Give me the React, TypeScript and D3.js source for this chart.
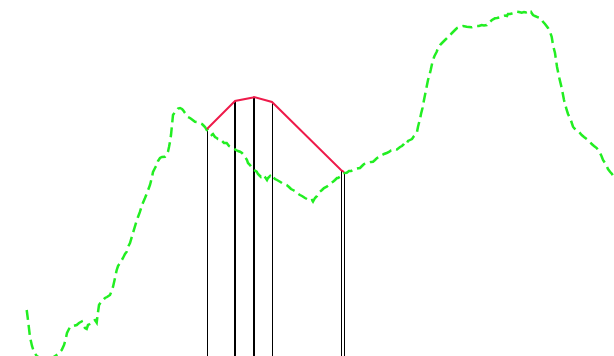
import React from "react";
import * as d3 from "d3";

const W = 614;
const H = 356;

// green series: time index and level
const seriesT = [26.7,28,30,32,34,36.7,40,46,53,58,61.7,64,65.5,67,70,73,76.7,79,81.7,83,85,86.7,88,90,91.7,93,95,96.7,97.5,99,101,103,105,107,110,112,113,115,116.7,118,120,123,125,126.7,128,130,133,136,138,140,142,145,147,150,152,153,155,156.7,158,160,162,165,167,168,169,170,171,171.7,172.5,173,175,176.7,178,180,182,183,185,186.7,188,190,192,195,197,200,202,203,205,206.7,208,210,211.7,213,215,216.7,218,220,222,224,226.7,229,231,233,236,238,240,242,245,247,248,250,252,254,256.7,258,260,261,263,265,267,268,270,271,273,275,277,280,282,284,286.7,289,291,293,295,297,300,302,305,307,309,310,312,313,315,317,318,320,322,324,326.7,329,331,333,335,337,338,340,342,344,346.7,349,351,353,355,357,360,362,364,366.7,369,371,373,375,377,380,382,384,386.7,389,391,393,395,397,400,402,404,405,407,408,410,412,414,415,417,418,420,421,422.5,424,425,426,427,428,429.5,430.7,432,433,434.5,436.7,438,440,442,445,447,449,450,452,455,457,460,463,466.7,469,471.7,474,476.7,479,481.7,484,486.7,488,490,492,495,497,500,502,505,507,508,510,512,514,516.7,519,521.7,524,526,528,530,531,533,535,538,540,541.5,543,545,548,550,551.7,553,555,557,559,561.7,564,566.7,568,570,571.5,573,575,577,579,581.7,584,586.7,588,590,591.7,594,596.7,598,600,601.5,603,605,606.7,608,610,612,613.3,616];
const seriesV = [46,36,19,10,4,0,-2,-3,-1.5,2,6,11,16,23,29,30,31,33,34.5,31,28,27,31,32,33,35,36,33.3,40,51,54,56,58,59,61,66,69,78,86,90,93,98,102,104.3,109,113,123,133,139,144.3,151,158,163,171,179,184,188,191,195,198,199,199.3,202,204.3,209,214.3,221,228,236,241,244,246,247.5,248,247,246,243,241,239,238,236.5,234.3,234,233,232,231,229,226,226,223,221,222,219,218,217,217,215,213,213,210,209,208,206,205,204.3,203,199.3,196,193,191,188,186,184.3,182,180,179,181,179,176,178,180,178,179.3,177,176,174.3,173,172,171,169,167,166,165,163,161,160,158,157,155,155.3,156,154.5,158,160,162,164.3,166,168,169.3,171,173,174.3,176,178,178,179.3,182,183,183.3,185,185,186,187,187.5,188,190,192,193,193,194,194.3,196,198,199.3,201,202,203,204,205.5,206,207,206.5,209,210,212,214,213,215,216,217,220,221,224,229.3,237,242,248,256,261,266,271,276,281,286,292,296,300,304.3,308,311,313,316,318,320,321,323,326,328,329.3,330,329.3,329,328.7,329.5,330,330,331,330.5,331,333,334.3,336,337.7,338,338.7,339.5,340.5,340,342,342,342.5,343,344.3,344,343.3,344,343.5,344.3,343,344,341,340,338.7,338,336.5,334.3,332,328,324,319.3,311,303,289.3,279.3,268,256,246,242,238,234,229.3,227,225.3,224,221,219,217,216,214,212,210,208,206,203,200,196,193,190,187,184.3,182,179.3,175];

// red markers: time index and level
const markT = [207, 234, 235, 253, 254, 272, 341, 344];
const markV = [227, 254, 255, 258.5, 259, 254, 186, 184];

export default function App() {
  const x = d3.scaleLinear().domain([0, 614]).range([0, W]);
  const y = d3.scaleLinear().domain([0, 356]).range([H, 0]);

  const green = seriesT.map((t, i) => [t, seriesV[i]] as [number, number]);
  const marks = markT.map((t, i) => [t, markV[i]] as [number, number]);

  const line = d3
    .line<[number, number]>()
    .x((d) => x(d[0]))
    .y((d) => y(d[1]));

  return (
    <svg
      width={W}
      height={H}
      style={{ position: "absolute", left: 0, top: 0, display: "block", background: "#fff" }}
    >
      {marks.map((d, i) => {
        const px = Math.round(x(d[0])) + 0.5;
        return (
          <line
            key={i}
            x1={px}
            x2={px}
            y1={y(d[1])}
            y2={y(-10)}
            stroke="#000"
            strokeWidth={1}
          />
        );
      })}
      <path
        d={line(green) || ""}
        fill="none"
        stroke="#22ee22"
        strokeWidth={2.5}
        strokeDasharray="10,5"
      />
      <path d={line(marks) || ""} fill="none" stroke="#ee1a4a" strokeWidth={2} />
    </svg>
  );
}
